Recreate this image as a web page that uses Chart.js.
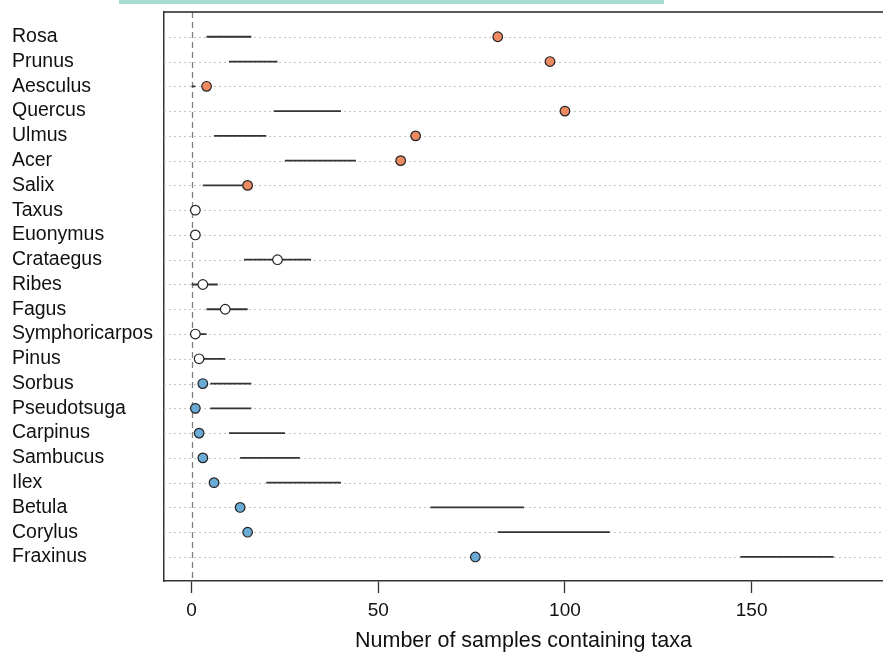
<!DOCTYPE html>
<html>
<head>
<meta charset="utf-8">
<script src="https://cdn.jsdelivr.net/npm/chart.js@4/dist/chart.umd.min.js"></script>
<style>
  html, body { margin: 0; padding: 0; background: #fff; overflow: hidden; }
  #wrap { position: relative; width: 883px; height: 654px; }
  #topbar { position: absolute; left: 119px; top: 0; width: 545px; height: 4px; background: #a6dccf; }
  #chart { display: block; }
</style>
</head>
<body>
<div id="wrap">
  <div id="topbar"></div>
  <canvas id="chart" width="883" height="654"></canvas>
</div>
<script>
/* DATA (top row first) */
const taxa = ["Rosa", "Prunus", "Aesculus", "Quercus", "Ulmus", "Acer", "Salix",
  "Taxus", "Euonymus", "Crataegus", "Ribes", "Fagus", "Symphoricarpos", "Pinus",
  "Sorbus", "Pseudotsuga", "Carpinus", "Sambucus", "Ilex", "Betula", "Corylus", "Fraxinus"];
const observed = [82, 96, 4, 100, 60, 56, 15, 1, 1, 23, 3, 9, 1, 2, 3, 1, 2, 3, 6, 13, 15, 76];
const expectedLow = [4, 10, 0, 22, 6, 25, 3, 0, 0, 14, 0, 4, 0, 1, 5, 5, 10, 13, 20, 64, 82, 147];
const expectedHigh = [16, 23, 1, 40, 20, 44, 14, 1, 1, 32, 7, 15, 4, 9, 16, 16, 25, 29, 40, 89, 112, 172];
const status = ["over", "over", "over", "over", "over", "over", "over",
  "none", "none", "none", "none", "none", "none", "none",
  "under", "under", "under", "under", "under", "under", "under", "under"];
const xTicks = [0, 50, 100, 150];

const statusColors = { over: "#ee8a62", none: "#ffffff", under: "#6aabd6" };
const FONT = "'Liberation Sans', Arial, sans-serif";

/* rows counted from the bottom, Rosa on top */
const rowValue = i => taxa.length - i;

const points = observed.map((v, i) => ({ x: v, y: rowValue(i) }));
const ranges = [];
expectedLow.forEach((lo, i) => {
    ranges.push({ x: lo, y: rowValue(i) }, { x: expectedHigh[i], y: rowValue(i) }, { x: expectedHigh[i], y: null });
});

/* dotted row lines, dashed zero line, top frame */
const plotFrame = {
    id: "plotFrame",
    beforeDatasetsDraw(chart) {
        const { ctx, chartArea: a, scales: { x, y } } = chart;
        ctx.save();
        ctx.strokeStyle = "#c4c4c4";
        ctx.lineWidth = 1;
        ctx.setLineDash([2, 3]);
        taxa.forEach((t, i) => {
            const py = Math.round(y.getPixelForValue(rowValue(i))) + 0.5;
            ctx.beginPath();
            ctx.moveTo(a.left, py);
            ctx.lineTo(a.right, py);
            ctx.stroke();
        });
        const px = Math.round(x.getPixelForValue(0)) + 0.5;
        ctx.strokeStyle = "#808080";
        ctx.lineWidth = 1.3;
        ctx.setLineDash([6, 4]);
        ctx.beginPath();
        ctx.moveTo(px, a.top);
        ctx.lineTo(px, a.bottom);
        ctx.stroke();
        ctx.setLineDash([]);
        ctx.strokeStyle = "#222";
        ctx.lineWidth = 1.5;
        ctx.beginPath();
        ctx.moveTo(a.left, a.top);
        ctx.lineTo(a.right, a.top);
        ctx.stroke();
        ctx.restore();
    }
};

new Chart(document.getElementById("chart"), {
    type: "scatter",
    data: {
        datasets: [
            {
                label: "Observed",
                data: points,
                order: 0,
                pointRadius: 4.8,
                pointHoverRadius: 4.8,
                pointBorderWidth: 1.2,
                pointBorderColor: "#222",
                pointBackgroundColor: status.map(s => statusColors[s])
            },
            {
                label: "Expected range",
                data: ranges,
                order: 1,
                showLine: true,
                spanGaps: false,
                borderColor: "#333",
                borderWidth: 1.8,
                pointRadius: 0
            }
        ]
    },
    options: {
        responsive: false,
        animation: false,
        layout: { autoPadding: false, padding: { top: 12, right: 0, bottom: 0, left: 12 } },
        plugins: { legend: { display: false }, tooltip: { enabled: false } },
        scales: {
            x: {
                type: "linear",
                min: -7.4,
                max: 185.2,
                afterBuildTicks: s => { s.ticks = xTicks.map(v => ({ value: v })); },
                grid: { display: true, drawOnChartArea: false, drawTicks: true, tickLength: 12, tickColor: "#333", tickWidth: 1.3 },
                border: { display: true, color: "#333", width: 1.5 },
                ticks: { color: "#111", font: { family: FONT, size: 19 }, padding: 6, maxRotation: 0, autoSkip: false },
                title: {
                    display: true,
                    text: "Number of samples containing taxa",
                    color: "#111",
                    font: { family: FONT, size: 21.5 },
                    padding: { top: 0, bottom: 0 }
                },
                afterFit: s => { s.height = 73; s.paddingLeft = 0; s.paddingRight = 0; }
            },
            y: {
                type: "linear",
                min: 0.03,
                max: 23,
                afterBuildTicks: s => { s.ticks = taxa.map((t, i) => ({ value: rowValue(i) })); },
                grid: { display: false },
                border: { display: true, color: "#333", width: 1.5 },
                ticks: {
                    crossAlign: "far",
                    padding: 0,
                    color: "#111",
                    autoSkip: false,
                    font: { family: FONT, size: 19.5, lineHeight: 1 },
                    callback: v => taxa[taxa.length - v]
                },
                afterFit: s => { s.width = 152; s.paddingTop = 0; s.paddingBottom = 0; }
            }
        }
    },
    plugins: [plotFrame]
});
</script>
</body>
</html>
